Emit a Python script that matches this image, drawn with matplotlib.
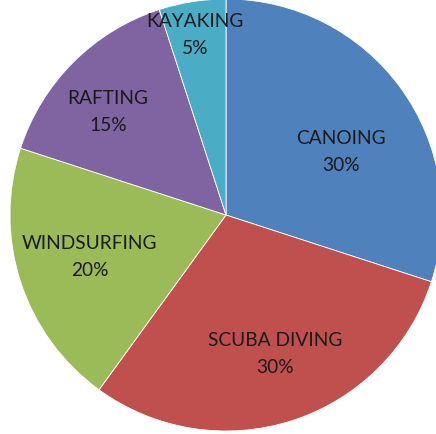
import matplotlib.pyplot as plt

labels = ['CANOING', 'SCUBA DIVING', 'WINDSURFING', 'RAFTING', 'KAYAKING']
values = [30, 30, 20, 15, 5]
colors = ['#4F81BD', '#C0504D', '#9BBB59', '#8064A2', '#4BACC6']
# label centres relative to the pie centre, as a fraction of the radius
label_pos = [(0.532, 0.296), (0.227, -0.639), (-0.630, -0.190),
             (-0.546, 0.481), (-0.144, 0.838)]

fig = plt.figure(figsize=(4.36, 4.35), dpi=100)
ax = fig.add_axes([0, 0, 1, 1])
cx, cy, r = 226, 435 - 216, 216
wedges, _ = ax.pie(values, colors=colors, startangle=90, counterclock=False,
                   center=(cx, cy), radius=r,
                   wedgeprops=dict(edgecolor='white', linewidth=0.6))

for lab, v, (fx, fy) in zip(labels, values, label_pos):
    ax.text(cx + fx * r, cy + fy * r, f'{lab}\n{v}%', ha='center', va='center',
            fontsize=13.8, family='Lato', color='#1a1a1a', linespacing=1.75)

ax.set_xlim(0, 436)
ax.set_ylim(0, 435)
ax.set_aspect('equal')
ax.axis('off')
fig.savefig('out.png', dpi=100, facecolor='white')
